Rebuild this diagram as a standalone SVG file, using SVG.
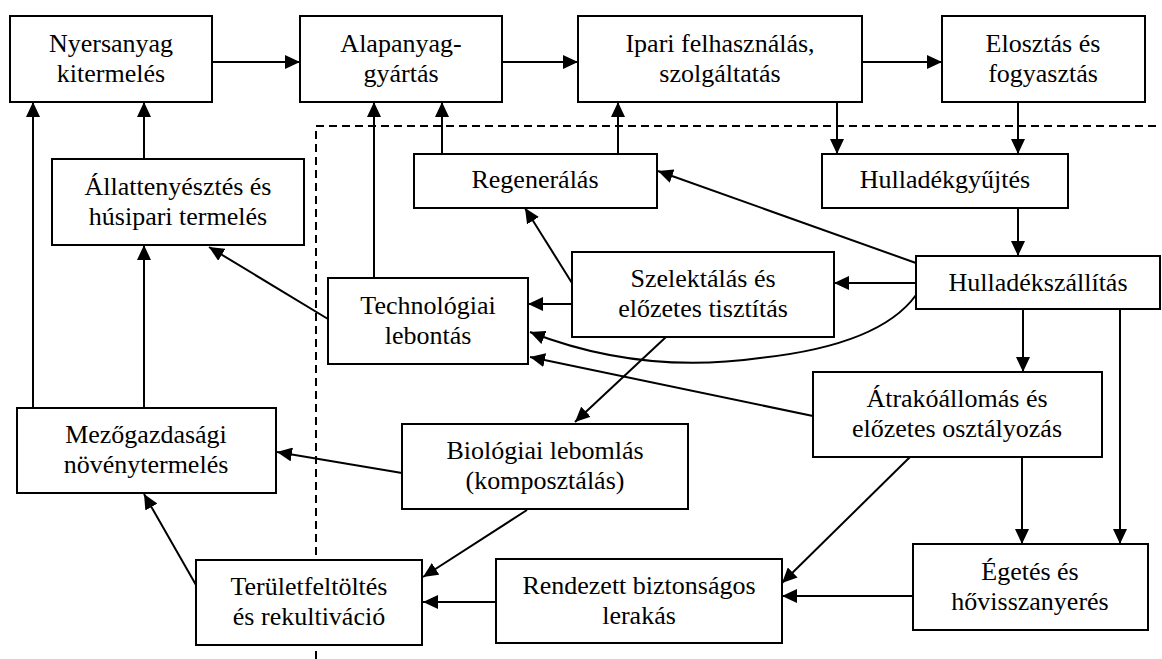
<svg xmlns="http://www.w3.org/2000/svg" width="1162" height="659" viewBox="0 0 1162 659">
<style>
.box rect{fill:#fff;stroke:#000;stroke-width:2}
.box text{font-family:'Liberation Serif','Times New Roman',serif;font-size:26px;fill:#000;text-anchor:middle}
.c{fill:none;stroke:#000;stroke-width:2;marker-end:url(#ah)}
.d{fill:none;stroke:#000;stroke-width:2;stroke-dasharray:8,5}
</style>
<defs>
<marker id="ah" markerUnits="userSpaceOnUse" markerWidth="16" markerHeight="14" refX="15" refY="7" orient="auto">
<path d="M0,0 L15,7 L0,14 z" fill="#000"/>
</marker>
</defs>
<rect width="1162" height="659" fill="#fff"/>
<g id="boundary">
<path class="d" d="M316,659 V126 H1160"/>
</g>
<g id="connectors">
<path class="c" d="M212,62 H300"/>
<path class="c" d="M502,62 H578"/>
<path class="c" d="M862,62 H942"/>
<path class="c" d="M837,102 V154"/>
<path class="c" d="M1018,102 V154"/>
<path class="c" d="M442,154 V102"/>
<path class="c" d="M618,154 V102"/>
<path class="c" d="M1018,208 V256"/>
<path class="c" d="M916,283 H834"/>
<path class="c" d="M572,304 H528"/>
<path class="c" d="M374,278 V102"/>
<path class="c" d="M328,319 L209,247"/>
<path class="c" d="M572,283 L525,208"/>
<path class="c" d="M916,263 L658,171"/>
<path class="c" d="M916,295 Q880,345 760,358 Q640,375 530,332"/>
<path class="c" d="M813,416 L530,357"/>
<path class="c" d="M1023,309 V372"/>
<path class="c" d="M1120,309 V544"/>
<path class="c" d="M1022,457 V544"/>
<path class="c" d="M910,457 L782,583"/>
<path class="c" d="M913,596 H782"/>
<path class="c" d="M496,602 H423"/>
<path class="c" d="M527,510 L423,577"/>
<path class="c" d="M666,337 L575,422"/>
<path class="c" d="M402,473 L277,452"/>
<path class="c" d="M33,408 V102"/>
<path class="c" d="M144,408 V245"/>
<path class="c" d="M144,159 V102"/>
<path class="c" d="M196,585 L144,494"/>
</g>
<g id="nodes">
<g id="nyersanyag" class="box"><rect x="10" y="16" width="202" height="86"/><text x="111" y="52">Nyersanyag</text><text x="111" y="82">kitermelés</text></g>
<g id="alapanyag" class="box"><rect x="300" y="16" width="202" height="86"/><text x="401" y="52">Alapanyag-</text><text x="401" y="82">gyártás</text></g>
<g id="ipari" class="box"><rect x="578" y="16" width="284" height="86"/><text x="720" y="52">Ipari felhasználás,</text><text x="720" y="82">szolgáltatás</text></g>
<g id="elosztas" class="box"><rect x="942" y="16" width="203" height="86"/><text x="1043" y="52">Elosztás és</text><text x="1043" y="82">fogyasztás</text></g>
<g id="allattenyesztes" class="box"><rect x="52" y="159" width="252" height="86"/><text x="178" y="195">Állattenyésztés és</text><text x="178" y="225">húsipari termelés</text></g>
<g id="regeneralas" class="box"><rect x="414" y="154" width="243" height="54"/><text x="535" y="188">Regenerálás</text></g>
<g id="hulladekgyujtes" class="box"><rect x="822" y="154" width="246" height="54"/><text x="945" y="188">Hulladékgyűjtés</text></g>
<g id="hulladekszallitas" class="box"><rect x="916" y="256" width="244" height="53"/><text x="1038" y="291">Hulladékszállítás</text></g>
<g id="szelektalas" class="box"><rect x="572" y="252" width="262" height="85"/><text x="703" y="287">Szelektálás és</text><text x="703" y="317">előzetes tisztítás</text></g>
<g id="technologiai" class="box"><rect x="328" y="278" width="200" height="86"/><text x="428" y="314">Technológiai</text><text x="428" y="344">lebontás</text></g>
<g id="atrako" class="box"><rect x="813" y="372" width="289" height="85"/><text x="957" y="407">Átrakóállomás és</text><text x="957" y="437">előzetes osztályozás</text></g>
<g id="mezogazdasagi" class="box"><rect x="17" y="408" width="259" height="85"/><text x="146" y="443">Mezőgazdasági</text><text x="146" y="473">növénytermelés</text></g>
<g id="biologiai" class="box"><rect x="402" y="424" width="286" height="85"/><text x="545" y="459">Biológiai lebomlás</text><text x="545" y="489">(komposztálás)</text></g>
<g id="egetes" class="box"><rect x="913" y="544" width="235" height="86"/><text x="1030" y="580">Égetés és</text><text x="1030" y="610">hővisszanyerés</text></g>
<g id="rendezett" class="box"><rect x="496" y="559" width="286" height="84"/><text x="639" y="594">Rendezett biztonságos</text><text x="639" y="624">lerakás</text></g>
<g id="teruletfeltoltes" class="box"><rect x="196" y="560" width="226" height="85"/><text x="309" y="595">Területfeltöltés</text><text x="309" y="625">és rekultiváció</text></g>
</g>
</svg>
